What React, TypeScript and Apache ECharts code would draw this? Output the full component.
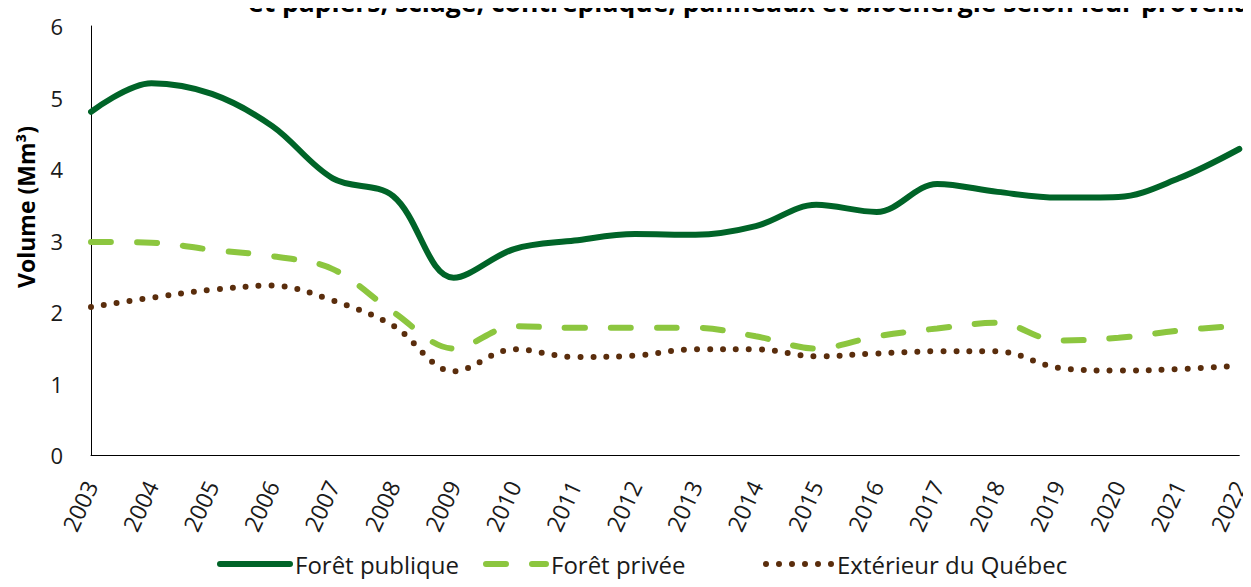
import React, { useEffect, useRef } from "react";
import * as echarts from "echarts";

const years = ["2003","2004","2005","2006","2007","2008","2009","2010","2011","2012","2013","2014","2015","2016","2017","2018","2019","2020","2021","2022"];
const foretPublique = [4.8, 5.2, 5.05, 4.6, 3.87, 3.62, 2.48, 2.88, 3.0, 3.09, 3.08, 3.2, 3.5, 3.4, 3.79, 3.68, 3.6, 3.61, 3.87, 4.28];
const foretPrivee = [2.98, 2.97, 2.87, 2.78, 2.6, 2.0, 1.49, 1.8, 1.78, 1.78, 1.78, 1.66, 1.49, 1.66, 1.77, 1.85, 1.6, 1.64, 1.74, 1.81];
const exterieur = [2.07, 2.2, 2.31, 2.37, 2.16, 1.81, 1.17, 1.48, 1.37, 1.39, 1.48, 1.48, 1.38, 1.42, 1.45, 1.45, 1.22, 1.18, 1.2, 1.25];
const seriesNames = ["Forêt publique", "Forêt privée", "Extérieur du Québec"];
const titleText = "et papiers, sciage, contreplaqué, panneaux et bioénergie selon leur provenance";
const yAxisName = "Volume (Mm³)";

const FONT = "'Open Sans', 'Noto Sans', sans-serif";
const COLORS = ["#006428", "#8cc63f", "#5a2d0c"];

export default function App() {
  const ref = useRef<HTMLDivElement>(null);
  useEffect(() => {
    if (!ref.current) return;
    const chart = echarts.init(ref.current, undefined, { renderer: "svg" });
    const legendText = { fontFamily: FONT, fontSize: 24, color: "#1a1a1a" };
    const mkLegend = (i: number, left: number, w: number, type: any) => ({
      data: [seriesNames[i]],
      left,
      top: 552,
      itemWidth: w,
      itemHeight: 12,
      padding: 0,
      textStyle: legendText,
      itemStyle: { opacity: 0 },
      lineStyle: { width: 6, color: COLORS[i], type, cap: "round" },
    });
    chart.setOption({
      animation: false,
      backgroundColor: "#ffffff",
      graphic: [
        {
          type: "text",
          left: 248,
          top: -12,
          style: { text: titleText, font: `bold 26.5px ${FONT}`, fill: "#000" },
        },
        {
          type: "text",
          x: 26,
          y: 207,
          rotation: Math.PI / 2,
          style: {
            text: yAxisName,
            font: `bold 23px ${FONT}`,
            fill: "#000",
            align: "center",
            verticalAlign: "middle",
          },
        },
      ],
      grid: { left: 91, right: 11, top: 26, bottom: 132, containLabel: false },
      legend: [
        mkLegend(0, 217, 70, "solid"),
        mkLegend(1, 483, 60, [20, 26]),
        mkLegend(2, 763, 66, [0, 13]),
      ],
      xAxis: {
        type: "category",
        data: years,
        boundaryGap: false,
        axisLine: { lineStyle: { color: "#000", width: 1 } },
        axisTick: { show: false },
        axisLabel: { rotate: 65, fontFamily: FONT, fontSize: 23, color: "#1a1a1a", margin: 27 },
        splitLine: { show: false },
      },
      yAxis: {
        type: "value",
        min: 0,
        max: 6,
        interval: 1,
        axisLine: { show: true, lineStyle: { color: "#000", width: 1 } },
        axisTick: { show: false },
        axisLabel: { fontFamily: FONT, fontSize: 22, color: "#1a1a1a", margin: 28 },
        splitLine: { show: false },
      },
      series: [
        {
          name: seriesNames[0],
          type: "line",
          data: foretPublique,
          smooth: 0.35,
          symbol: "none",
          lineStyle: { color: COLORS[0], width: 6, cap: "round" },
          itemStyle: { color: COLORS[0] },
        },
        {
          name: seriesNames[1],
          type: "line",
          data: foretPrivee,
          smooth: 0.35,
          symbol: "none",
          lineStyle: { color: COLORS[1], width: 6, type: [20, 26], cap: "round" },
          itemStyle: { color: COLORS[1] },
        },
        {
          name: seriesNames[2],
          type: "line",
          data: exterieur,
          smooth: 0.35,
          symbol: "none",
          lineStyle: { color: COLORS[2], width: 6, type: [0, 13], cap: "round" },
          itemStyle: { color: COLORS[2] },
        },
      ],
    });
    return () => chart.dispose();
  }, []);
  return <div ref={ref} style={{ width: 1251, height: 587, margin: -8 }} />;
}
